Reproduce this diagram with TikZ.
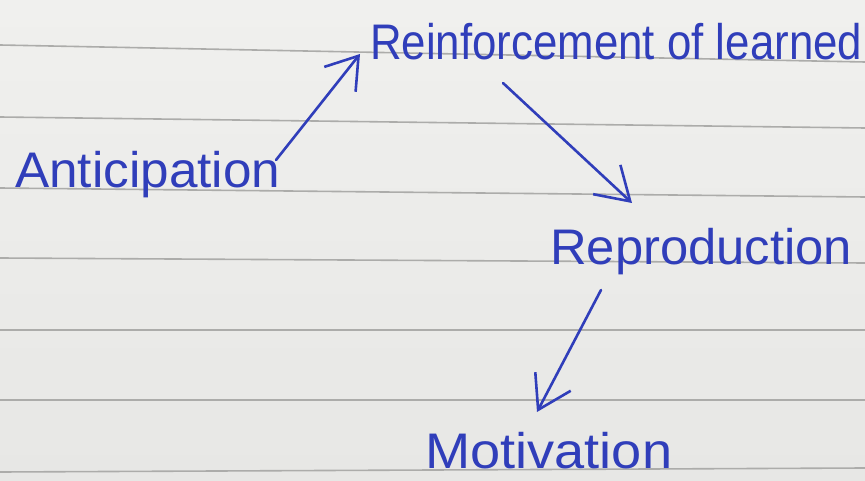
\documentclass[tikz,border=0pt]{standalone}
\usepackage{fontspec}
\setmainfont{Liberation Sans}
\usepackage{graphicx}
\usetikzlibrary{arrows.meta}
\definecolor{paper}{RGB}{231,231,229}
\definecolor{paperlight}{RGB}{240,240,238}
\definecolor{rule}{RGB}{172,172,170}
\definecolor{ink}{RGB}{48,62,186}
\tikzset{
  handtext/.style={anchor=base west, inner sep=0pt, text=ink, font=\fontsize{50}{50}\selectfont},
  pen/.style={draw=ink, line width=2.6pt, line cap=round, line join=round},
  penarrow/.style={pen, -{Straight Barb[length=#1, width=40pt, line width=2.6pt]}},
  paperline/.style={draw=rule, line width=1.6pt}
}
\begin{document}
\begin{tikzpicture}[x=1pt, y=-1pt]
  % paper
  \shade[top color=paperlight, bottom color=paper] (0,0) rectangle (865,481);
  \useasboundingbox (0,0) rectangle (865,481);
  % ruled lines
  \draw[paperline] (0,45) -- (865,62);
  \draw[paperline] (0,117) -- (865,128);
  \draw[paperline] (0,188) -- (865,197);
  \draw[paperline] (0,258) -- (865,263);
  \draw[paperline] (0,330) -- (865,330);
  \draw[paperline] (0,400) -- (865,400);
  \draw[paperline] (0,472) -- (865,468);
  % texts
  \node[handtext] (ant) at (15,188) {\resizebox{265pt}{\height}{Anticipation}};
  \node[handtext] (rein) at (370,60) {\resizebox{492pt}{\height}{Reinforcement of learned}};
  \node[handtext] (rep) at (550,265) {\resizebox{302pt}{\height}{Reproduction}};
  \node[handtext] (mot) at (425,468) {\resizebox{247pt}{\height}{Motivation}};
  % arrows
  \draw[penarrow=30pt] ([shift={(261,-28)}]ant.base west) -- ([shift={(-10,-6)}]rein.base west);
  \draw[penarrow=32pt] ([shift={(133,23)}]rein.base west) -- ([shift={(82,-62)}]rep.base west);
  \draw[penarrow=32pt] ([shift={(51,25)}]rep.base west) -- ([shift={(112,-56)}]mot.base west);
\end{tikzpicture}
\end{document}
